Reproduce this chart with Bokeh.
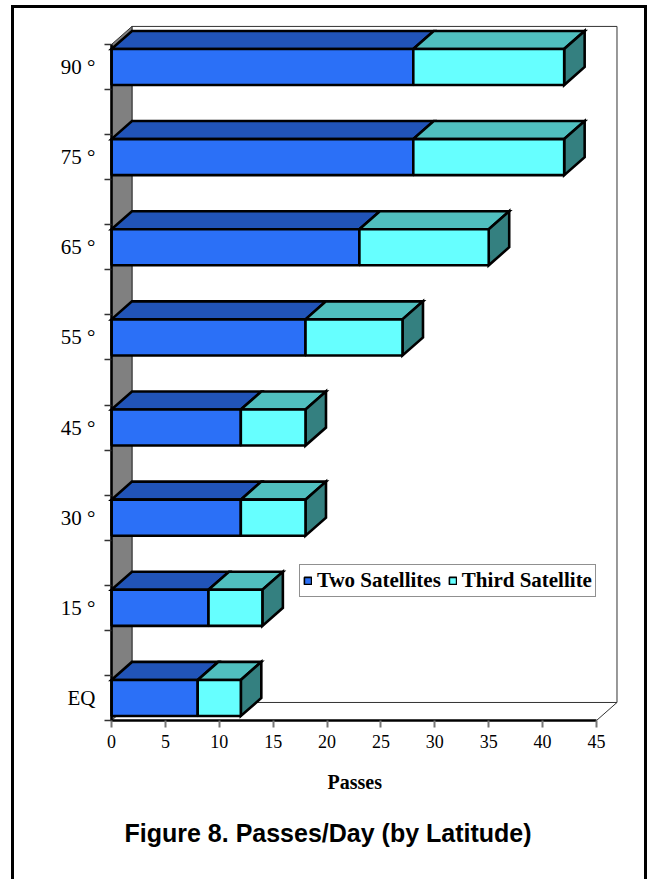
from bokeh.plotting import figure
from bokeh.models import (FixedTicker, Legend, LegendItem, Title,
                          ColumnDataSource, InlineStyleSheet)
from bokeh.embed import file_html
from bokeh.resources import INLINE

# ---------------- data ----------------
categories = ["EQ", "15 °", "30 °", "45 °", "55 °", "65 °", "75 °", "90 °"]
two_satellites = [8, 9, 12, 12, 18, 23, 28, 28]
third_satellite = [4, 5, 6, 6, 9, 12, 14, 14]
x_ticks = [0, 5, 10, 15, 20, 25, 30, 35, 40, 45]
x_max = 45
series_names = ["Two Satellites", "Third Satellite"]
x_title = "Passes"
fig_title = "Figure 8. Passes/Day (by Latitude)"

# ---------------- layout / style constants ----------------
W, H = 650, 879
PX_X = 10.778          # pixels per pass
PX_Y = 45.07           # pixels per category slot
X0_PX, Y0_PX = 111, 720
F_L, F_R, F_T, F_B = 105, 650, 0, 726
N_SLOTS = 2 * len(categories) - 1
DX, DY = 1.9, 0.4       # 3-D depth offset (data units)
BAR_LO, BAR_HI = 0.1, 0.9

def px2x(px):
    return (px - X0_PX) / PX_X

def px2y(py):
    return (Y0_PX - py) / PX_Y

C_TWO_FRONT = "#2B70F7"
C_TWO_TOP = "#2154B8"
C_THIRD_FRONT = "#66FFFF"
C_THIRD_TOP = "#50BFBF"
C_THIRD_SIDE = "#348080"
C_WALL = "#808080"

p = figure(width=W, height=H,
           x_range=(px2x(F_L), px2x(F_R)), y_range=(px2y(F_B), px2y(F_T)),
           output_backend="svg", toolbar_location=None, title_location=None,
           min_border_left=F_L, min_border_right=W - F_R,
           min_border_top=F_T, min_border_bottom=H - F_B)
p.outline_line_color = None
p.grid.visible = False
p.background_fill_color = "white"
p.border_fill_color = "white"

# page frame (thick black rectangle around the figure)
p.stylesheets = [InlineStyleSheet(css="""
:host { position: relative; overflow: hidden; }
:host::after { content: ""; position: absolute; left: 11px; top: 5px;
  width: 636px; height: 900px; box-sizing: border-box;
  border: 3px solid black; pointer-events: none; z-index: 10; }
""")]

# ---------------- back wall, floor, side wall ----------------
p.quad(left=[DX], right=[x_max + DX], bottom=[DY], top=[N_SLOTS + DY],
       fill_color="white", line_color="#333333", line_width=1)
p.segment(x0=[x_max], y0=[0], x1=[x_max + DX], y1=[DY],
          line_color="#333333", line_width=1)
p.patch(x=[0, DX, DX, 0], y=[0, DY, N_SLOTS + DY, N_SLOTS],
        fill_color=C_WALL, line_color="#333333", line_width=1)

# ---------------- bars ----------------
y0s = [2 * i + BAR_LO for i in range(len(categories))]
y1s = [2 * i + BAR_HI for i in range(len(categories))]
totals = [a + b for a, b in zip(two_satellites, third_satellite)]

front = ColumnDataSource(dict(
    left=[0] * len(categories), mid=two_satellites, right=totals,
    bottom=y0s, top=y1s))

two_top_xs = [[0, t, t + DX, DX] for t in two_satellites]
two_top_ys = [[y1, y1, y1 + DY, y1 + DY] for y1 in y1s]
third_top_xs = [[t, s, s + DX, t + DX] for t, s in zip(two_satellites, totals)]
third_top_ys = two_top_ys
side_xs = [[s, s, s + DX, s + DX] for s in totals]
side_ys = [[y0, y1, y1 + DY, y0 + DY] for y0, y1 in zip(y0s, y1s)]

LW = 2.6
p.patches(xs=two_top_xs, ys=two_top_ys, fill_color=C_TWO_TOP,
          line_color="black", line_width=LW, line_join="miter")
p.patches(xs=third_top_xs, ys=third_top_ys, fill_color=C_THIRD_TOP,
          line_color="black", line_width=LW, line_join="miter")
p.patches(xs=side_xs, ys=side_ys, fill_color=C_THIRD_SIDE,
          line_color="black", line_width=LW, line_join="miter")
p.quad(left="left", right="mid", bottom="bottom", top="top", source=front,
       fill_color=C_TWO_FRONT, line_color="black", line_width=LW)
p.quad(left="mid", right="right", bottom="bottom", top="top", source=front,
       fill_color=C_THIRD_FRONT, line_color="black", line_width=LW)

# front axis edges
p.segment(x0=[0, 0], y0=[0, 0], x1=[x_max, 0], y1=[0, N_SLOTS],
          line_color="black", line_width=2.6)

# ---------------- axes ----------------
xa = p.xaxis[0]
xa.ticker = FixedTicker(ticks=x_ticks)
xa.axis_line_color = None
xa.major_tick_in = 6
xa.major_tick_out = 1
xa.major_tick_line_color = "#777777"
xa.major_tick_line_width = 2
xa.minor_tick_line_color = None
xa.major_label_standoff = 7
xa.major_label_text_font = "Liberation Serif"
xa.major_label_text_font_size = "18px"
xa.major_label_text_color = "black"

ya = p.yaxis[0]
centers = [2 * i + 0.5 for i in range(len(categories))]
ya.ticker = FixedTicker(ticks=centers, minor_ticks=list(range(N_SLOTS + 1)))
ya.major_label_overrides = {c: lab for c, lab in zip(centers, categories)}
ya.axis_line_color = None
ya.major_tick_in = 0
ya.major_tick_out = 0
ya.minor_tick_in = 6
ya.minor_tick_out = 1
ya.minor_tick_line_color = "#333333"
ya.minor_tick_line_width = 1.5
ya.major_label_standoff = 9
ya.major_label_text_font = "Liberation Serif"
ya.major_label_text_font_size = "21px"
ya.major_label_text_color = "black"

# ---------------- legend ----------------
far = [-1000]
d1 = p.quad(left=far, right=far, bottom=far, top=far, fill_color=C_TWO_FRONT,
            line_color="black", line_width=1.6)
d2 = p.quad(left=far, right=far, bottom=far, top=far, fill_color=C_THIRD_FRONT,
            line_color="black", line_width=1.6)
legend = Legend(items=[LegendItem(label=series_names[0], renderers=[d1]),
                       LegendItem(label=series_names[1], renderers=[d2])],
                orientation="horizontal", location=(299 - F_L, F_B - 597),
                glyph_width=9, glyph_height=9, label_standoff=5, spacing=7,
                padding=3, margin=0, border_line_color="#222222",
                border_line_width=1.5, background_fill_color="white",
                background_fill_alpha=1.0,
                label_text_font="Liberation Serif", label_text_font_style="bold",
                label_text_font_size="21px", label_text_color="black")
p.add_layout(legend, "center")

# ---------------- axis title and caption below ----------------
t_axis = Title(text=x_title, align="left", offset=354 - 27 - F_L, standoff=36,
               text_font="Liberation Serif", text_font_style="bold",
               text_font_size="20px", text_color="black")
t_fig = Title(text=fig_title, align="left", offset=124 - F_L, standoff=12,
              text_font="Liberation Sans", text_font_style="bold",
              text_font_size="25px", text_color="black")
p.add_layout(t_axis, "below")
p.add_layout(t_fig, "below")

open("out.html", "w").write(file_html(p, INLINE))
